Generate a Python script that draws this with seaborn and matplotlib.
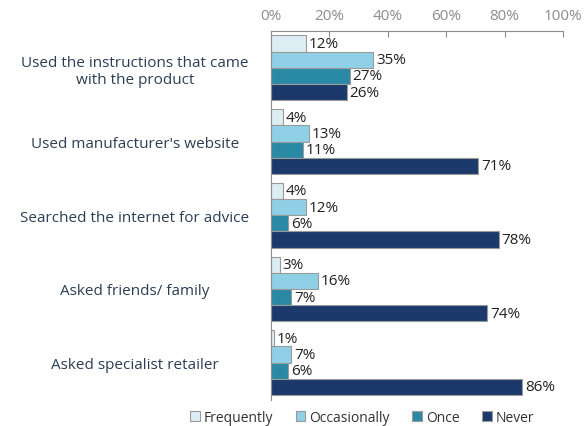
import pandas as pd
import matplotlib.pyplot as plt
import seaborn as sns
import numpy as np

sns.set_style("white")
plt.rcParams['font.family'] = ['Open Sans', 'DejaVu Sans']

# data
categories = ["Used the instructions that came\nwith the product",
              "Used manufacturer's website",
              "Searched the internet for advice",
              "Asked friends/ family",
              "Asked specialist retailer"]
series = ["Frequently", "Occasionally", "Once", "Never"]
frequently = [12, 4, 4, 3, 1]
occasionally = [35, 13, 12, 16, 7]
once = [27, 11, 6, 7, 6]
never = [26, 71, 78, 74, 86]
colors = ["#ddedf4", "#8fd0e6", "#2a8aa6", "#1b3a6b"]

rows = []
for s, vals in zip(series, [frequently, occasionally, once, never]):
    for c, v in zip(categories, vals):
        rows.append({"category": c, "response": s, "pct": v})
df = pd.DataFrame(rows)

fig = plt.figure(figsize=(5.84, 4.27), dpi=100)
ax = fig.add_axes([0.464, 0.062, 0.5, 0.863])

sns.barplot(data=df, y="category", x="pct", hue="response", orient="h",
            palette=colors, saturation=1, width=0.88, edgecolor="#9a9a9a",
            linewidth=0.8, ax=ax, legend=True)

# value labels
for cont in ax.containers:
    ax.bar_label(cont, labels=[f"{int(v)}%" for v in cont.datavalues],
                 padding=2, fontsize=11, color="#222222")

ax.set_xlim(0, 100)
ax.set_ylim(len(categories) - 0.5, -0.5)
ax.xaxis.tick_top()
ax.set_xticks(np.arange(0, 101, 20))
ax.set_xticklabels([f"{t}%" for t in range(0, 101, 20)], color="#8c8c8c", fontsize=11)
ax.tick_params(axis="x", direction="in", length=4, color="#8c8c8c", pad=6)
ax.set_xlabel("")
ax.set_ylabel("")

ax.set_yticks(range(len(categories)))
ax.set_yticklabels(categories, color="#2b3e55", fontsize=11, ha="center")
ax.tick_params(axis="y", length=0, pad=98)
ax.set_yticks(np.arange(-0.5, len(categories), 1), minor=True)
ax.tick_params(axis="y", which="minor", length=4, color="#8c8c8c", direction="out")

for sp in ["right", "bottom"]:
    ax.spines[sp].set_visible(False)
ax.spines["top"].set_color("#8c8c8c")
ax.spines["left"].set_color("#8c8c8c")

handles, labels = ax.get_legend_handles_labels()
ax.get_legend().remove()
leg = fig.legend(handles, labels, loc="center", bbox_to_anchor=(0.62, 0.02), ncol=4,
                 frameon=False, fontsize=10, handlelength=0.7, handleheight=0.7,
                 handletextpad=0.3, columnspacing=1.6)
for t in leg.get_texts():
    t.set_color("#333333")

fig.savefig("out.png", dpi=100)
